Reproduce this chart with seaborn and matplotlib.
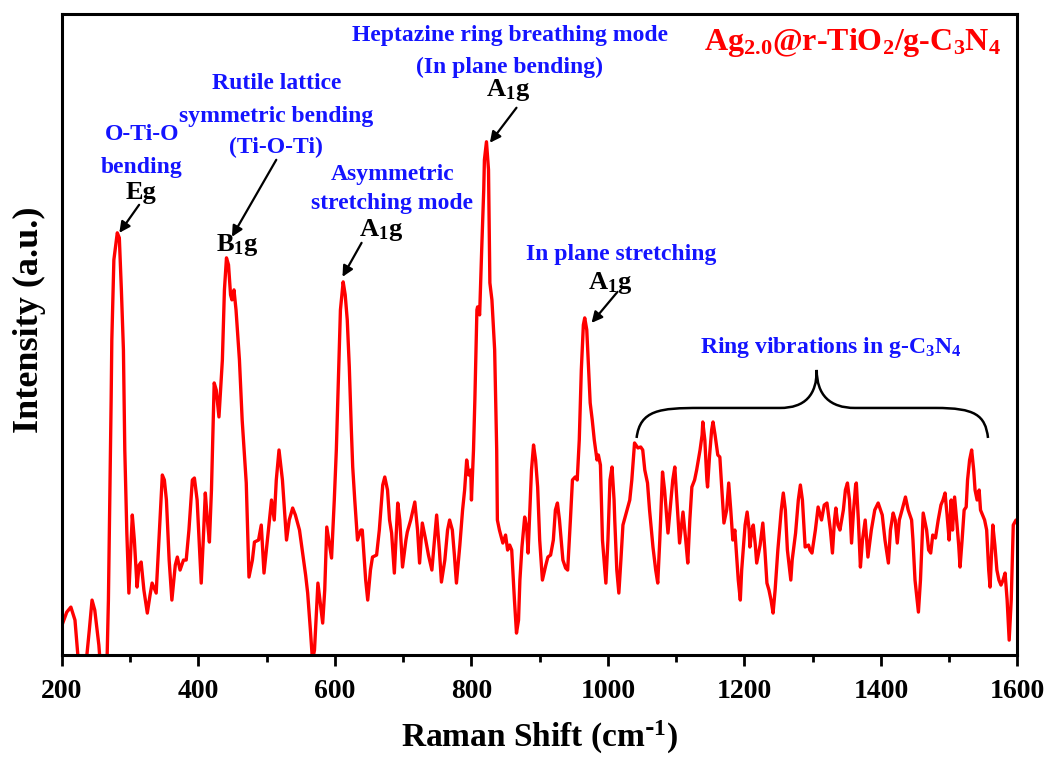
import numpy as np
import pandas as pd
import matplotlib
matplotlib.use("Agg")
import matplotlib.pyplot as plt
from matplotlib.path import Path
from matplotlib.patches import PathPatch
import seaborn as sns

# ---------------- data (Raman shift in cm-1, intensity in a.u.) ----------------
shift_a = [200, 207, 213, 219, 225, 234, 240, 244, 248, 254,
           259, 265, 268, 269, 272, 273, 276, 281, 284, 287,
           290, 292, 295, 298, 303, 306, 310, 313, 316, 320,
           325, 329, 332, 338, 342, 347, 350, 353, 357, 361,
           366, 369, 373, 378, 382, 386, 391, 394, 398, 404,
           407, 410, 413, 416, 419, 423, 426, 430, 435, 438,
           441, 444, 447, 449, 452, 455, 460, 464, 470, 474,
           479, 482, 488, 492, 496, 501, 507, 511, 514, 518,
           523, 529, 533, 538, 542]
inten_a = [30, 43, 48, 35, -15, -17, 25, 55, 45, 10,
           -35, -35, 55, 105, 255, 315, 395, 422, 417, 365,
           305, 205, 122, 62, 140, 115, 68, 90, 93, 65,
           42, 60, 72, 62, 115, 180, 175, 155, 95, 55,
           90, 98, 85, 95, 95, 125, 175, 177, 155, 72,
           115, 162, 135, 113, 165, 272, 265, 238, 295, 365,
           397, 390, 360, 355, 365, 345, 295, 235, 172, 78,
           95, 113, 115, 130, 82, 115, 155, 135, 175, 205,
           175, 115, 135, 147, 140]

shift_b = [548, 552, 557, 560, 564, 567, 570, 575, 578, 582,
           585, 588, 592, 595, 599, 602, 605, 608, 612, 615,
           618, 621, 624, 626, 629, 633, 638, 640, 645, 648,
           652, 655, 661, 665, 670, 673, 677, 680, 683, 687,
           692, 695, 699, 704, 706, 711, 717, 721, 724, 728,
           733, 737, 742, 749, 753, 756, 761, 765, 768, 772,
           775, 778, 783, 787, 790, 793, 796, 799, 800, 803,
           805, 808, 809, 812, 815, 818, 819, 822, 825, 827,
           830, 834, 837, 838, 841, 846, 850, 853, 856, 859,
           863, 866, 869, 871]
inten_b = [125, 105, 80, 62, 25, -5, 5, 72, 55, 32,
           65, 128, 110, 97, 155, 205, 275, 345, 373, 360,
           335, 288, 225, 188, 155, 115, 125, 125, 75, 55,
           85, 98, 100, 125, 170, 178, 165, 135, 122, 82,
           152, 135, 88, 115, 123, 135, 153, 125, 92, 132,
           115, 100, 85, 140, 105, 73, 95, 125, 135, 125,
           100, 72, 110, 145, 165, 195, 180, 185, 155, 205,
           255, 345, 348, 340, 405, 465, 495, 513, 485, 372,
           355, 305, 205, 135, 125, 112, 120, 105, 110, 105,
           55, 22, 35, 75]

shift_c = [874, 878, 881, 883, 885, 888, 891, 894, 897, 900,
           904, 909, 912, 916, 920, 923, 926, 929, 934, 938,
           941, 945, 948, 952, 955, 958, 961, 964, 966, 969,
           971, 974, 977, 980, 984, 986, 989, 992, 997, 1000,
           1003, 1006, 1009, 1010, 1013, 1016, 1019, 1022, 1026, 1032,
           1035, 1039, 1044, 1048, 1051, 1054, 1058, 1061, 1066, 1070,
           1073, 1076, 1079, 1080, 1083, 1088, 1091, 1095, 1098, 1101,
           1105, 1110, 1114, 1117, 1120, 1123, 1127, 1130, 1135, 1138,
           1139, 1142, 1145, 1146, 1149, 1152, 1154, 1157, 1161, 1164,
           1167, 1170, 1174, 1177, 1180, 1183, 1186, 1191, 1194, 1196,
           1201, 1204, 1207, 1208, 1211, 1213, 1216, 1218, 1223]
inten_c = [108, 138, 127, 102, 135, 185, 210, 195, 168, 115,
           75, 90, 98, 100, 115, 145, 152, 135, 95, 87,
           85, 135, 175, 178, 175, 215, 285, 330, 337, 325,
           295, 252, 235, 215, 195, 200, 190, 115, 72, 115,
           175, 188, 155, 135, 85, 62, 95, 130, 140, 155,
           175, 212, 207, 208, 205, 185, 172, 145, 108, 85,
           72, 115, 165, 183, 165, 122, 145, 175, 188, 155,
           112, 143, 115, 92, 135, 168, 175, 185, 205, 220,
           233, 215, 175, 168, 200, 225, 233, 220, 200, 198,
           165, 132, 145, 172, 145, 115, 125, 75, 55, 85,
           130, 143, 125, 108, 125, 130, 110, 92, 110]

shift_d = [1227, 1230, 1233, 1236, 1239, 1242, 1245, 1249, 1254, 1257,
           1260, 1263, 1268, 1270, 1275, 1279, 1282, 1285, 1289, 1294,
           1296, 1299, 1304, 1308, 1313, 1317, 1321, 1326, 1329, 1332,
           1334, 1337, 1340, 1345, 1348, 1351, 1354, 1357, 1360, 1363,
           1364, 1367, 1370, 1373, 1377, 1381, 1386, 1391, 1396, 1402,
           1406, 1411, 1414, 1418, 1421, 1424, 1427, 1431, 1436, 1440,
           1445, 1447, 1450, 1455, 1458, 1462, 1467, 1470, 1473, 1476,
           1480, 1484, 1488, 1491, 1494, 1497, 1500, 1503, 1505, 1508,
           1511, 1514, 1516, 1519, 1522, 1525, 1527, 1530, 1533, 1536,
           1538, 1541, 1544, 1546, 1549, 1552, 1555, 1558, 1560, 1563,
           1564, 1567, 1570, 1573, 1576, 1579, 1582, 1585, 1588, 1591,
           1594, 1598]
inten_d = [132, 105, 72, 65, 55, 42, 65, 105, 145, 162,
           145, 105, 75, 95, 122, 155, 170, 155, 108, 110,
           105, 102, 125, 148, 135, 150, 152, 125, 102, 135,
           147, 130, 125, 145, 165, 172, 155, 112, 145, 170,
           172, 135, 88, 115, 135, 98, 125, 145, 152, 140,
           115, 92, 125, 142, 135, 112, 135, 145, 158, 145,
           135, 115, 75, 43, 75, 142, 125, 105, 102, 120,
           117, 135, 150, 155, 162, 140, 115, 155, 125, 158,
           135, 110, 88, 115, 145, 148, 175, 195, 205, 185,
           165, 155, 165, 145, 140, 135, 125, 85, 68, 115,
           130, 110, 85, 75, 70, 75, 82, 55, 15, 55,
           130, 135]

x_ticks = [200, 400, 600, 800, 1000, 1200, 1400, 1600]
x_minor = [300, 500, 700, 900, 1100, 1300, 1500]

sample_label = "Ag$_{2.0}$@r-TiO$_2$/g-C$_3$N$_4$"
x_label = "Raman Shift (cm$^{\\text{-}1}$)"
y_label = "Intensity (a.u.)"

# ---------------- style ----------------
sns.set_style("ticks")
plt.rcParams["font.family"] = ["Liberation Serif", "DejaVu Serif"]
plt.rcParams["font.weight"] = "bold"
plt.rcParams["mathtext.default"] = "regular"
plt.rcParams["text.color"] = "black"
plt.rcParams["axes.labelcolor"] = "black"
plt.rcParams["xtick.color"] = "black"
plt.rcParams["ytick.color"] = "black"

BLUE = "#1414ff"
RED = "#ff0000"

df = pd.DataFrame({
    "shift": shift_a + shift_b + shift_c + shift_d,
    "intensity": inten_a + inten_b + inten_c + inten_d,
})

fig = plt.figure(figsize=(10.51, 7.60), dpi=100)
ax = fig.add_axes([0.059, 0.138, 0.909, 0.844])

sns.lineplot(data=df, x="shift", y="intensity", ax=ax, color=RED,
             lw=2.4, sort=False, estimator=None)

ax.set_xlim(200, 1600)
ax.set_ylim(0, 641)
ax.set_xticks(x_ticks)
ax.set_xticks(x_minor, minor=True)
ax.set_yticks([])
ax.tick_params(axis="x", which="major", direction="out", length=8, width=2,
               labelsize=20, pad=9, colors="black")
ax.tick_params(axis="x", which="minor", direction="out", length=5, width=2,
               colors="black")
for lab in ax.get_xticklabels():
    lab.set_fontweight("bold")
for sp in ax.spines.values():
    sp.set_visible(True)
    sp.set_linewidth(2.2)
    sp.set_color("black")

ax.set_xlabel(x_label, fontsize=24, fontweight="bold", labelpad=11,
              color="black")
ax.set_ylabel(y_label, fontsize=26, fontweight="bold", color="black")
ax.yaxis.set_label_coords(-0.017, 0.523)

# ---------------- annotations ----------------
fs_blue = 17
fs_peak = 19

def btext(x, y, s):
    ax.text(x, y, s, color=BLUE, fontsize=fs_blue, fontweight="bold",
            ha="center", va="center")

def peak(x, y, s, tail, head):
    ax.text(x, y, s, color="black", fontsize=fs_peak, fontweight="bold",
            ha="center", va="center")
    ax.annotate("", xy=head, xytext=tail,
                arrowprops=dict(arrowstyle="-|>", color="black", lw=1.6,
                                mutation_scale=16, shrinkA=0, shrinkB=0))

# O-Ti-O bending
btext(317, 520, "O-Ti-O")
btext(317, 487, "bending")
peak(316, 462, "Eg", (313, 450), (284, 422))

# Rutile lattice
btext(514, 571, "Rutile lattice")
btext(514, 538, "symmetric bending")
btext(514, 507, "(Ti-O-Ti)")
peak(457, 410, "B$_1$g", (514, 495), (449, 418))

# Asymmetric stretching
btext(684, 480, "Asymmetric")
btext(684, 451, "stretching mode")
peak(668, 425, "A$_1$g", (639, 412), (611, 378))

# Heptazine
btext(856, 619, "Heptazine ring breathing mode")
btext(856, 587, "(In plane bending)")
peak(853, 565, "A$_1$g", (866, 547), (827, 512))

# In plane stretching
btext(1020, 400, "In plane stretching")
peak(1003, 372, "A$_1$g", (1014, 363), (976, 332))

# Ring vibrations + brace
btext(1326, 307, "Ring vibrations in g-C$_3$N$_4$")
verts = [(1042, 217), (1047, 245), (1076, 247), (1135, 247),
         (1252, 247),
         (1289, 247), (1306, 260), (1306, 285),
         (1306, 260), (1325, 247), (1362, 247),
         (1480, 247),
         (1538, 247), (1553, 240), (1557, 217)]
codes = [Path.MOVETO, Path.CURVE4, Path.CURVE4, Path.CURVE4,
         Path.LINETO,
         Path.CURVE4, Path.CURVE4, Path.CURVE4,
         Path.CURVE4, Path.CURVE4, Path.CURVE4,
         Path.LINETO,
         Path.CURVE4, Path.CURVE4, Path.CURVE4]
ax.add_patch(PathPatch(Path(verts, codes), fill=False, lw=1.8,
                       edgecolor="black"))

# Sample name
ax.text(1358, 612, sample_label, color=RED, fontsize=23, fontweight="bold",
        ha="center", va="center")

fig.savefig("out.png", dpi=100)
